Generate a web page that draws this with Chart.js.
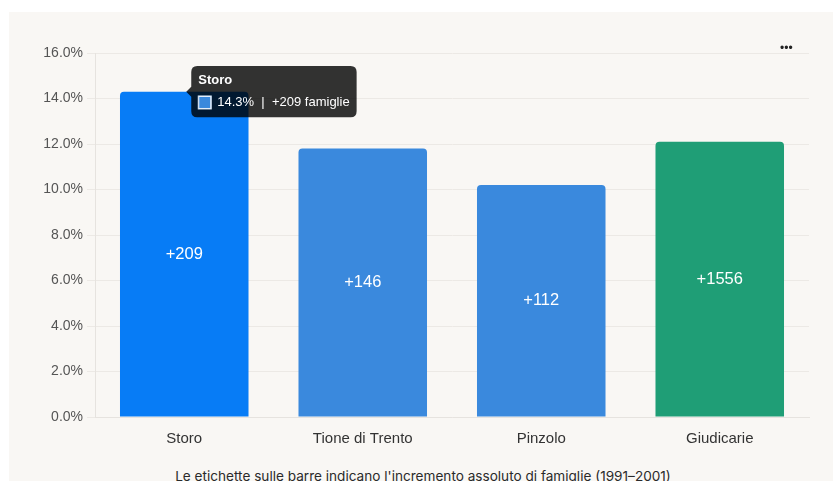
<!DOCTYPE html>
<html lang="it">
<head>
<meta charset="utf-8">
<script src="https://cdn.jsdelivr.net/npm/chart.js@4/dist/chart.umd.min.js"></script>
<style>
  html, body { margin: 0; padding: 0; background: #ffffff; width: 833px; height: 481px; overflow: hidden; }
  .card { position: absolute; left: 9px; top: 12px; width: 824px; height: 469px; background: #f9f7f4; }
  .chart-box { position: absolute; left: 0; top: 0; width: 824px; height: 441px; }
  .menu { position: absolute; left: 771px; top: 29px; font: 12px "Liberation Sans", Arial, sans-serif; color: #222; }
  .note { position: absolute; left: 0; top: 456px; width: 828px; text-align: center; font: 13.6px Inter, "Liberation Sans", sans-serif; color: #2a2a2a; }
</style>
</head>
<body>
<div class="card">
  <div class="chart-box"><canvas id="chart" width="824" height="441"></canvas></div>
  <div class="menu">&bull;&bull;&bull;</div>
  <div class="note">Le etichette sulle barre indicano l'incremento assoluto di famiglie (1991–2001)</div>
</div>
<script>
// Crescita percentuale delle famiglie 1991–2001
const categories = ['Storo', 'Tione di Trento', 'Pinzolo', 'Giudicarie'];
const growthPct = [14.3, 11.8, 10.2, 12.1];
const addedFamilies = [209, 146, 112, 1556];
const barColors = ['#077cf6', '#3a89dd', '#3a89dd', '#1f9e76'];
const yTicks = [0, 2, 4, 6, 8, 10, 12, 14, 16];

const FONT = '"Liberation Sans", Arial, sans-serif';

// Draws "+N" in the middle of each bar
const barLabels = {
  id: 'barLabels',
  afterDatasetsDraw(chart) {
    const ctx = chart.ctx;
    const meta = chart.getDatasetMeta(0);
    ctx.save();
    ctx.fillStyle = '#ffffff';
    ctx.font = '16.5px ' + FONT;
    ctx.textAlign = 'center';
    ctx.textBaseline = 'middle';
    meta.data.forEach((bar, i) => {
      const mid = (bar.y + bar.base) / 2;
      ctx.fillText('+' + addedFamilies[i], bar.x, mid);
    });
    ctx.restore();
  }
};

const chart = new Chart(document.getElementById('chart'), {
  type: 'bar',
  data: {
    labels: categories,
    datasets: [{
      data: growthPct,
      backgroundColor: barColors,
      hoverBackgroundColor: barColors,
      borderRadius: { topLeft: 4, topRight: 4 },
      borderSkipped: 'bottom'
    }]
  },
  options: {
    responsive: false,
    animation: false,
    events: [],
    layout: { padding: { top: 41, right: 24, bottom: 0, left: 0 } },
    plugins: {
      legend: { display: false },
      tooltip: {
        enabled: true,
        xAlign: 'left',
        yAlign: 'center',
        backgroundColor: 'rgba(0,0,0,0.8)',
        titleFont: { family: FONT, size: 13, weight: 'bold' },
        bodyFont: { family: FONT, size: 13 },
        titleColor: '#ffffff',
        bodyColor: '#ffffff',
        padding: 7,
        titleMarginBottom: 6,
        cornerRadius: 6,
        boxPadding: 4,
        callbacks: {
          title: items => items[0].label,
          label: item => growthPct[item.dataIndex].toFixed(1) + '%  |  +' + addedFamilies[item.dataIndex] + ' famiglie',
          labelColor: () => ({ borderColor: '#cfe2f7', backgroundColor: '#3a89dd', borderWidth: 1 })
        }
      }
    },
    scales: {
      x: {
        grid: { display: false },
        border: { display: true, color: '#e6e3df' },
        ticks: { color: '#333333', font: { family: FONT, size: 15 }, padding: 5 }
      },
      y: {
        min: 0,
        max: 16,
        afterFit: s => { s.width = 86; },
        afterBuildTicks: s => { s.ticks = yTicks.map(v => ({ value: v })); },
        grid: { color: '#ece9e5', tickLength: 8 },
        border: { display: true, color: '#e6e3df' },
        ticks: {
          color: '#555555',
          font: { family: FONT, size: 14 },
          padding: 4,
          callback: v => v.toFixed(1) + '%'
        }
      }
    }
  },
  plugins: [barLabels]
});

// Show the tooltip for the first bar
const first = chart.getDatasetMeta(0).data[0];
chart.tooltip.setActiveElements([{ datasetIndex: 0, index: 0 }], { x: first.x, y: first.y });
chart.setActiveElements([{ datasetIndex: 0, index: 0 }]);
chart.update();
</script>
</body>
</html>
